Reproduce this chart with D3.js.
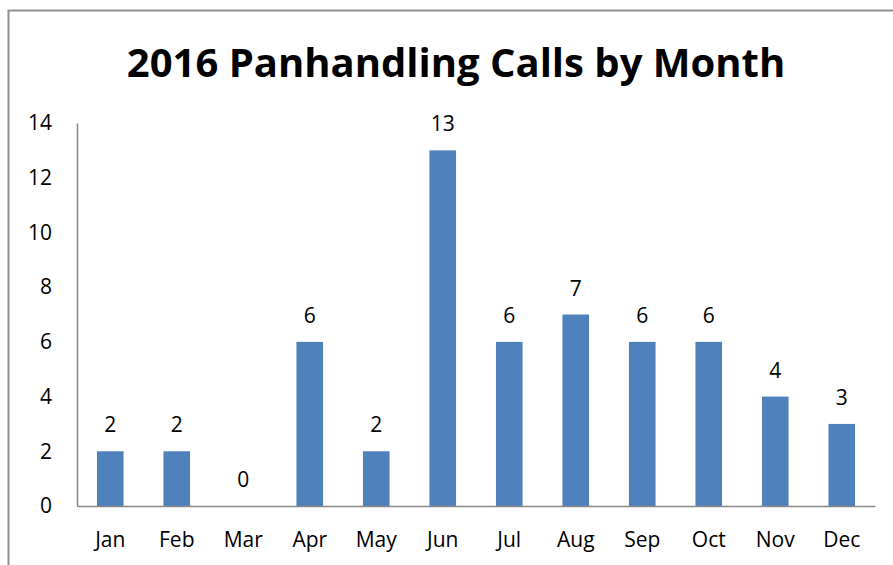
<!doctype html>
<html>
  <head>
    <script src="https://d3js.org/d3.v7.min.js"></script>
    <style>
      body { margin: 0; background: #fff; }
      text { font-family: "Open Sans", sans-serif; fill: #000; }
    </style>
  </head>
  <body>
    <svg id="chart" width="893" height="565"></svg>
    <script>
      // data
      var months = ["Jan", "Feb", "Mar", "Apr", "May", "Jun", "Jul", "Aug", "Sep", "Oct", "Nov", "Dec"];
      var calls = [2, 2, 0, 6, 2, 13, 6, 7, 6, 6, 4, 3];
      var yTicks = [0, 2, 4, 6, 8, 10, 12, 14];

      var svg = d3.select("#chart");

      /* outer chart border (runs off the right and bottom) */
      svg.append("rect")
        .attr("x", 8.5).attr("y", 10.5)
        .attr("width", 1000).attr("height", 1000)
        .style("fill", "none").style("stroke", "#909090").style("stroke-width", 2);

      var plotLeft = 77, plotRight = 875, plotTop = 123, plotBottom = 506;

      var x = d3.scaleBand().domain(months).range([plotLeft, plotRight])
        .paddingInner(0.6).paddingOuter(0.3);
      var y = d3.scaleLinear().domain([0, 14]).range([plotBottom, plotTop]);

      /* title */
      svg.append("text")
        .attr("x", 456).attr("y", 77)
        .attr("text-anchor", "middle")
        .style("font-size", "40px").style("font-weight", "bold")
        .text("2016 Panhandling Calls by Month");

      /* bars */
      svg.selectAll("rect.bar").data(calls)
        .enter()
        .append("rect")
          .attr("class", "bar")
          .attr("x", (d, i) => x(months[i]))
          .attr("y", d => y(d))
          .attr("width", x.bandwidth())
          .attr("height", d => y(0) - y(d))
          .style("fill", "#4f81bd");

      /* value labels */
      svg.selectAll("text.val").data(calls)
        .enter()
        .append("text")
          .attr("class", "val")
          .attr("x", (d, i) => x(months[i]) + x.bandwidth() / 2)
          .attr("y", d => y(d) - 19)
          .attr("text-anchor", "middle")
          .style("font-size", "21px")
          .text(d => d);

      /* y axis */
      var yAxis = svg.append("g")
        .attr("transform", "translate(" + plotLeft + ",0)")
        .call(d3.axisLeft(y).tickValues(yTicks).tickSize(0).tickPadding(25));
      yAxis.select(".domain").attr("stroke", "#888").attr("stroke-width", 1.5);
      yAxis.selectAll("text").style("font-size", "21px").style("font-family", "'Open Sans', sans-serif");

      /* x axis */
      var xAxis = svg.append("g")
        .attr("transform", "translate(0," + plotBottom + ")")
        .call(d3.axisBottom(x).tickSize(0).tickPadding(26));
      xAxis.select(".domain").attr("stroke", "#888").attr("stroke-width", 1.5);
      xAxis.selectAll("text").style("font-size", "21px").style("font-family", "'Open Sans', sans-serif");
    </script>
  </body>
</html>
